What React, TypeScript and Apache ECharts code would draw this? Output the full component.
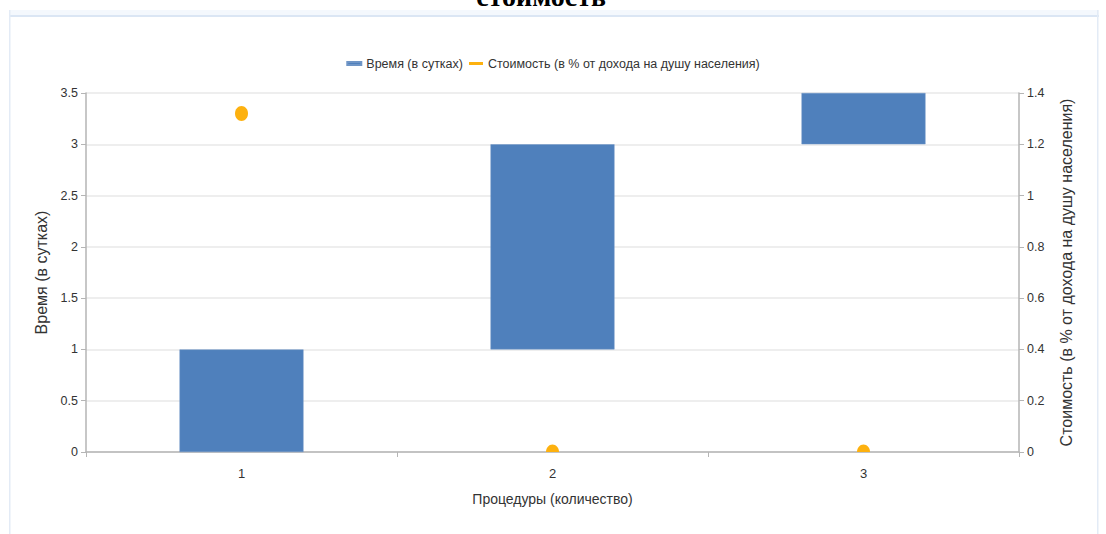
import React, { useEffect, useRef } from "react";
import * as echarts from "echarts";

const categories = ["1", "2", "3"];
const barBase = [0, 1, 3];
const barHeight = [1, 2, 0.5];
const costValues = [1.32, 0, 0];
const leftTicks = { min: 0, max: 3.5, interval: 0.5 };
const rightTicks = { min: 0, max: 1.4, interval: 0.2 };

const FONT = "'Liberation Sans', Arial, sans-serif";
const BLUE = "#4F80BC";
const ORANGE = "#FDB10F";

export default function App() {
  const ref = useRef<HTMLDivElement>(null);
  useEffect(() => {
    const chart = echarts.init(ref.current!, null, { renderer: "svg" });
    chart.setOption({
      animation: false,
      textStyle: { fontFamily: FONT },
      graphic: [
        { type: "rect", shape: { x: 9, y: 10, width: 1090, height: 6 }, style: { fill: "#f4f8fd" }, silent: true },
        { type: "rect", shape: { x: 9, y: 15, width: 1090, height: 2 }, style: { fill: "#dbe6f4" }, silent: true },
        { type: "rect", shape: { x: 9, y: 10, width: 1.5, height: 530 }, style: { fill: "#e3ebf6" }, silent: true },
        { type: "rect", shape: { x: 1097, y: 10, width: 1.5, height: 530 }, style: { fill: "#e3ebf6" }, silent: true },
        {
          type: "text",
          x: 541,
          y: -4,
          style: {
            text: "стоимость",
            font: "bold 28px 'Liberation Serif', 'Times New Roman', serif",
            fill: "#000",
            align: "center",
            verticalAlign: "middle",
          },
          silent: true,
        },
      ],
      legend: {
        top: 52,
        left: "center",
        itemWidth: 14,
        itemHeight: 3,
        itemGap: 6,
        textStyle: { fontSize: 12.5, color: "#333", fontFamily: FONT },
        data: [
          { name: "Время (в сутках)", icon: "rect", itemStyle: { color: BLUE } },
          { name: "Стоимость (в % от дохода на душу населения)", icon: "rect", itemStyle: { color: ORANGE } },
        ],
      },
      grid: { left: 86, right: 87, top: 93, bottom: 82, containLabel: false },
      xAxis: {
        type: "category",
        data: categories,
        name: "Процедуры (количество)",
        nameLocation: "middle",
        nameGap: 40,
        nameTextStyle: { fontSize: 14, color: "#333" },
        axisLine: { lineStyle: { color: "#b5b5b5", width: 1.5 } },
        axisTick: { show: true, alignWithLabel: false, length: 5, lineStyle: { color: "#b5b5b5" } },
        axisLabel: { fontSize: 13, color: "#333", margin: 15 },
      },
      yAxis: [
        {
          type: "value",
          ...leftTicks,
          name: "Время (в сутках)",
          nameLocation: "middle",
          nameGap: 36,
          nameTextStyle: { fontSize: 16, color: "#333" },
          axisLine: { show: true, lineStyle: { color: "#b5b5b5", width: 1.5 } },
          axisTick: { show: true, length: 5, lineStyle: { color: "#b5b5b5" } },
          axisLabel: { fontSize: 12.5, color: "#333", margin: 8 },
          splitLine: { show: true, lineStyle: { color: "#e8e8e8", width: 1.5 } },
        },
        {
          type: "value",
          ...rightTicks,
          position: "right",
          name: "Стоимость (в % от дохода на душу населения)",
          nameLocation: "middle",
          nameGap: 39,
          nameRotate: 90,
          nameTextStyle: { fontSize: 16, color: "#333" },
          axisLine: { show: true, lineStyle: { color: "#b5b5b5", width: 1.5 } },
          axisTick: { show: true, length: 5, lineStyle: { color: "#b5b5b5" } },
          axisLabel: { fontSize: 12.5, color: "#333", margin: 8 },
          splitLine: { show: false },
        },
      ],
      series: [
        {
          name: "base",
          type: "bar",
          stack: "time",
          data: barBase,
          barWidth: 124,
          itemStyle: { color: "transparent" },
          silent: true,
          legendHoverLink: false,
        },
        {
          name: "Время (в сутках)",
          type: "bar",
          stack: "time",
          data: barHeight,
          barWidth: 124,
          itemStyle: { color: BLUE, borderColor: "#6f95c6", borderWidth: 0.5 },
        },
        {
          name: "Стоимость (в % от дохода на душу населения)",
          type: "custom",
          yAxisIndex: 1,
          clip: true,
          data: costValues.map((v, i) => [i, v]),
          encode: { x: 0, y: 1 },
          renderItem: (params: any, api: any) => {
            const pt = api.coord([api.value(0), api.value(1)]);
            return {
              type: "ellipse",
              shape: { cx: pt[0], cy: pt[1], rx: 6.5, ry: 7.5 },
              style: { fill: ORANGE },
            };
          },
          itemStyle: { color: ORANGE },
        },
      ],
    });
    return () => chart.dispose();
  }, []);
  return (
    <div
      ref={ref}
      style={{ position: "absolute", left: 0, top: 0, width: 1106, height: 534, background: "#fff" }}
    />
  );
}
